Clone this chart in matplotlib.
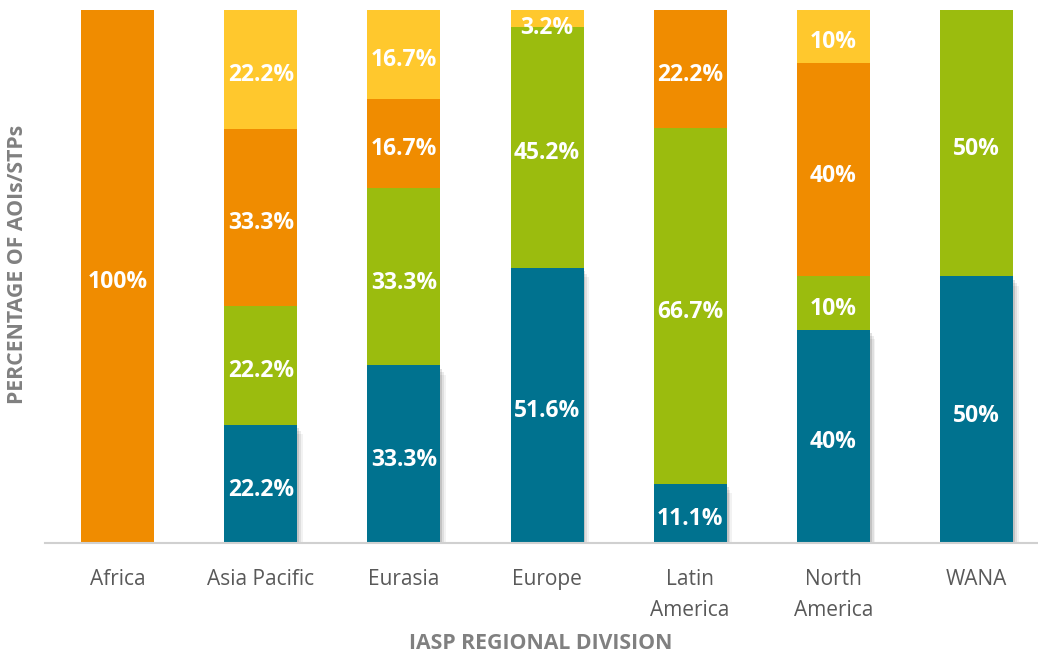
import numpy as np
import matplotlib
matplotlib.use('Agg')
import matplotlib.pyplot as plt

# data (percent of AOIs/STPs per region)
regions = ['Africa', 'Asia Pacific', 'Eurasia', 'Europe', 'Latin\nAmerica', 'North\nAmerica', 'WANA']
blue   = [0, 22.2, 33.3, 51.6, 11.1, 40, 50]
green  = [0, 22.2, 33.3, 45.2, 66.7, 10, 50]
orange = [100, 33.3, 16.7, 0, 22.2, 40, 0]
yellow = [0, 22.2, 16.7, 3.2, 0, 10, 0]

series = [blue, green, orange, yellow]
colors = ['#00728F', '#9BBC0E', '#F08C00', '#FFC82D']

plt.rcParams['font.family'] = ['Open Sans', 'DejaVu Sans']

fig = plt.figure(figsize=(10.38, 6.55), dpi=100)
ax = fig.add_axes([0.043, 0.171, 0.957, 0.814])

x = np.arange(len(regions))
w = 0.51

# soft shadow behind the blue bars
for k, a in enumerate([0.12, 0.08, 0.05]):
    off = 0.013 * (k + 1)
    ax.bar(x + off, blue, w, bottom=-0.6 * (k + 1),
           color='black', alpha=a, zorder=1, linewidth=0)

bottom = np.zeros(len(regions))
for vals, c in zip(series, colors):
    vals = np.array(vals, dtype=float)
    ax.bar(x, vals, w, bottom=bottom, color=c, zorder=2, linewidth=0)
    for i, v in enumerate(vals):
        if v > 0:
            ypos = min(bottom[i] + v / 2 - 1.1, 96.6)
            ax.text(x[i], ypos, f'{v:g}%', ha='center', va='center',
                    color='white', fontsize=16.5, fontweight='bold', zorder=3)
    bottom += vals

ax.set_xlim(-0.51, 6.43)
ax.set_ylim(0, 100)
ax.set_yticks([])
ax.set_xticks(x)
ax.set_xticklabels(regions, fontsize=15, color='#595959', linespacing=1.6)
ax.tick_params(axis='x', length=0, pad=19)
for s in ['top', 'right', 'left']:
    ax.spines[s].set_visible(False)
ax.spines['bottom'].set_color('#D0D0D0')
ax.spines['bottom'].set_linewidth(1.5)

fig.text(0.521, 0.018, 'IASP REGIONAL DIVISION', ha='center', va='center',
         fontsize=15.3, fontweight='bold', color='#808080')
fig.text(0.017, 0.597, 'PERCENTAGE OF AOIs/STPs', rotation=90, ha='center', va='center',
         fontsize=15.3, fontweight='bold', color='#808080')

fig.savefig('out.png', dpi=100)
